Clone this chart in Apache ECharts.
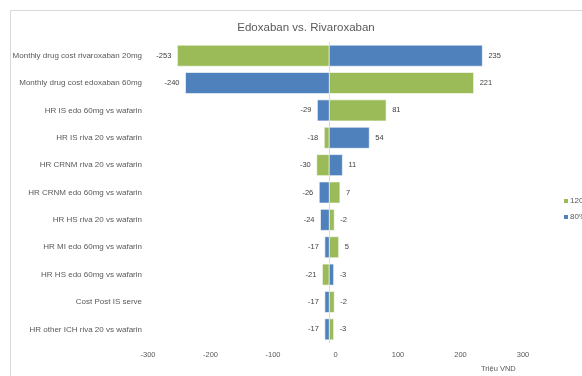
<!DOCTYPE html>
<html>
<head>
<meta charset="utf-8">
<script src="https://cdn.jsdelivr.net/npm/echarts@6/dist/echarts.min.js"></script>
<style>
  html, body { margin: 0; padding: 0; background: #fff; }
  #chart { width: 582px; height: 376px; }
</style>
</head>
<body>
<div id="chart"></div>
<script>
// Tornado chart: each bar runs from the base-case result to the value at 120% / 80%.
const categories = [
  'Monthly drug cost rivaroxaban 20mg',
  'Monthly drug cost edoxaban 60mg',
  'HR IS edo 60mg vs wafarin',
  'HR IS riva 20 vs wafarin',
  'HR CRNM riva 20 vs wafarin',
  'HR CRNM edo 60mg vs wafarin',
  'HR HS riva 20 vs wafarin',
  'HR MI edo 60mg vs wafarin',
  'HR HS edo 60mg vs wafarin',
  'Cost Post IS serve',
  'HR other ICH riva 20 vs wafarin'
];
const values120 = [-253, 221, 81, -18, -30, 7, -2, 5, -21, -2, -3];
const values80  = [235, -240, -29, 54, 11, -26, -24, -17, -3, -17, -17];
const baseCase = -10;
const xTicks = { min: -300, max: 300, step: 100 };

const GREEN = '#9BBB59';
const BLUE = '#4F81BD';
const FONT = '"Liberation Sans", Arial, sans-serif';

function tornadoRender(color) {
  return function (params, api) {
    const idx = api.value(0);
    const val = api.value(1);
    const start = api.coord([baseCase, idx]);
    const end = api.coord([val, idx]);
    const band = api.size([0, 1])[1];
    const h = band * 0.77;
    const x0 = Math.min(start[0], end[0]);
    const w = Math.abs(end[0] - start[0]);
    const right = val >= baseCase;
    return {
      type: 'group',
      children: [
        {
          type: 'rect',
          shape: { x: x0, y: start[1] - h / 2, width: w, height: h },
          style: { fill: color, stroke: 'rgba(255,255,255,0.6)', lineWidth: 1 }
        },
        {
          type: 'text',
          x: right ? end[0] + 6 : end[0] - 6,
          y: start[1],
          style: {
            text: String(val),
            fill: '#404040',
            font: '7.5px ' + FONT,
            align: right ? 'left' : 'right',
            verticalAlign: 'middle'
          }
        }
      ]
    };
  };
}

const chart = echarts.init(document.getElementById('chart'));
chart.setOption({
  animation: false,
  backgroundColor: '#fff',
  title: {
    text: 'Edoxaban vs. Rivaroxaban',
    left: 301,
    top: 17,
    textAlign: 'center',
    textStyle: { fontFamily: FONT, fontSize: 11.5, fontWeight: 'normal', color: '#595959' }
  },
  graphic: [
    {
      type: 'rect',
      shape: { x: 10.5, y: 10.5, width: 620, height: 420 },
      style: { fill: 'none', stroke: '#D9D9D9', lineWidth: 1 },
      z: -1
    },
    {
      type: 'text',
      left: 481,
      top: 365,
      style: { text: 'Triệu VND', fill: '#595959', font: '7.5px ' + FONT }
    }
  ],
  legend: {
    orient: 'vertical',
    left: 559,
    top: 192,
    itemWidth: 4,
    itemHeight: 4,
    itemGap: 8,
    icon: 'rect',
    textStyle: { fontFamily: FONT, fontSize: 8, color: '#595959', padding: [0, 0, 0, -3] },
    data: ['120%', '80%']
  },
  grid: { left: 148, right: 59, top: 42, bottom: 33 },
  xAxis: {
    type: 'value',
    min: xTicks.min,
    max: xTicks.max,
    interval: xTicks.step,
    axisLine: { show: false },
    axisTick: { show: false },
    splitLine: { show: false },
    axisLabel: { fontFamily: FONT, fontSize: 7.5, color: '#595959', margin: 8 }
  },
  yAxis: {
    type: 'category',
    inverse: true,
    data: categories,
    axisLine: { show: false },
    axisTick: { show: false },
    axisLabel: { fontFamily: FONT, fontSize: 8, color: '#595959', margin: 6 }
  },
  series: [
    {
      name: '120%',
      type: 'custom',
      itemStyle: { color: GREEN },
      renderItem: tornadoRender(GREEN),
      encode: { x: 1, y: 0 },
      data: values120.map((v, i) => [i, v]),
      markLine: {
        silent: true,
        symbol: 'none',
        label: { show: false },
        lineStyle: { color: '#D9D9D9', type: 'solid', width: 1 },
        data: [{ xAxis: baseCase }],
        z: 0
      },
      z: 2
    },
    {
      name: '80%',
      type: 'custom',
      itemStyle: { color: BLUE },
      renderItem: tornadoRender(BLUE),
      encode: { x: 1, y: 0 },
      data: values80.map((v, i) => [i, v]),
      z: 2
    }
  ]
});
</script>
</body>
</html>
